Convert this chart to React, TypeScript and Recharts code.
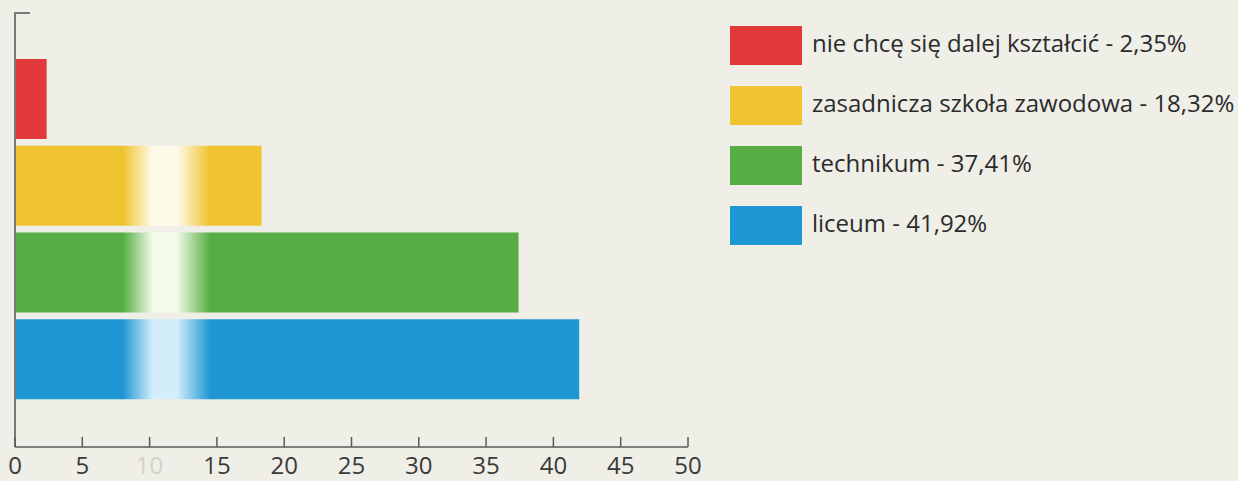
import { Bar, BarChart, Cell, Legend, ReferenceLine, XAxis, YAxis } from 'recharts'

// dane z wykresu
const categories = [
  'nie chcę się dalej kształcić',
  'zasadnicza szkoła zawodowa',
  'technikum',
  'liceum',
]
const values = [2.35, 18.32, 37.41, 41.92]
const colors = ['#e1393a', '#f0c331', '#56ad43', '#1f97d3']
const glare = ['#f6a6a0', '#fffbea', '#f3fbea', '#d3eefa']
const xTicks = [0, 5, 10, 15, 20, 25, 30, 35, 40, 45, 50]

const data = categories.map((name, i) => ({ name, value: values[i] }))

const fmt = (v: number) => v.toFixed(2).replace('.', ',')

const FONT = '"Open Sans", "Noto Sans", sans-serif'

// tick skierowany do wewnątrz + etykieta pod osią
// eslint-disable-next-line @typescript-eslint/no-explicit-any
function XTick({ x, y, payload }: any) {
  return (
    <g>
      <line x1={x} x2={x} y1={y} y2={y - 10} stroke='#5a5a5a' strokeWidth={1.5} />
      <text
        x={x}
        y={y + 17}
        textAnchor='middle'
        dominantBaseline='central'
        fontFamily={FONT}
        fontSize={24}
        fill={payload.value === 10 ? '#d2d2ca' : '#3a3a3a'}
      >
        {payload.value}
      </text>
    </g>
  )
}

// oś Y z krótką kreską na górze
// eslint-disable-next-line @typescript-eslint/no-explicit-any
function YLine({ x1, y1, x2, y2 }: any) {
  const top = Math.min(y1, y2)
  return (
    <g stroke='#7a7a7a' strokeWidth={2}>
      <line x1={x1} x2={x2} y1={y1} y2={y2} />
      <line x1={x1 - 1} x2={x1 + 15} y1={top} y2={top} />
    </g>
  )
}

function LegendBox() {
  return (
    <div style={{ fontFamily: FONT }}>
      {categories.map((c, i) => (
        <div key={c} style={{ display: 'flex', alignItems: 'center', height: 39, marginBottom: 21 }}>
          <div style={{ width: 72, height: 39, background: colors[i], marginRight: 10 }} />
          <span style={{ fontSize: 24, color: '#2b2b2b', whiteSpace: 'nowrap', marginTop: -6 }}>
            {c} - {fmt(values[i])}%
          </span>
        </div>
      ))}
    </div>
  )
}

export default function App() {
  return (
    <div style={{ width: 1238, height: 481, background: '#efeee7', overflow: 'hidden' }}>
      <style>{'body{margin:0}'}</style>
      <BarChart
        width={1238}
        height={481}
        data={data}
        layout='vertical'
        margin={{ top: 13, left: 15, right: 550, bottom: 0 }}
      >
        <defs>
          {colors.map((c, i) => (
            <linearGradient key={c} id={`g${i}`} gradientUnits='userSpaceOnUse' x1={15} x2={688} y1={0} y2={0}>
              <stop offset='0' stopColor={c} />
              <stop offset='0.16' stopColor={c} />
              <stop offset='0.205' stopColor={glare[i]} />
              <stop offset='0.24' stopColor={glare[i]} />
              <stop offset='0.29' stopColor={c} />
              <stop offset='1' stopColor={c} />
            </linearGradient>
          ))}
        </defs>
        <XAxis
          type='number'
          domain={[0, 50]}
          ticks={xTicks}
          interval={0}
          height={34}
          tickSize={0}
          tickMargin={0}
          tickLine={false}
          tick={<XTick />}
          axisLine={{ stroke: '#5a5a5a', strokeWidth: 1.5 }}
        />
        <YAxis
          type='category'
          dataKey='name'
          width={0}
          tick={false}
          tickLine={false}
          axisLine={false}
          padding={{ top: 43, bottom: 44 }}
        />
        <ReferenceLine x={0} shape={<YLine />} />
        <Legend
          layout='vertical'
          align='center'
          verticalAlign='middle'
          wrapperStyle={{ left: 730, top: 26, width: 508 }}
          content={<LegendBox />}
        />
        <Bar dataKey='value' barSize={80} isAnimationActive={false}>
          {data.map((d, i) => (
            <Cell key={d.name} fill={`url(#g${i})`} />
          ))}
        </Bar>
      </BarChart>
    </div>
  )
}
